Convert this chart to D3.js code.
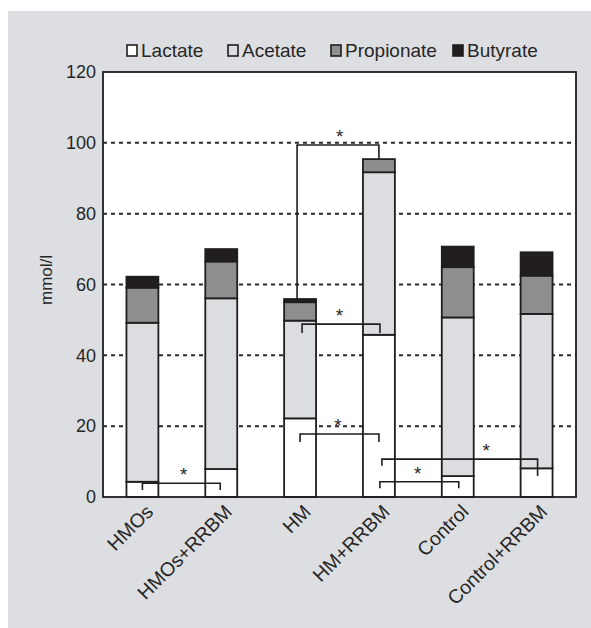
<!DOCTYPE html>
<html>
<head>
<meta charset="utf-8">
<script src="https://cdn.jsdelivr.net/npm/d3@7"></script>
<style>
  html, body { margin: 0; padding: 0; background: #ffffff; }
  svg { display: block; font-family: "Liberation Sans", Arial, sans-serif; }
</style>
</head>
<body>
<svg id="chart" width="591" height="628"></svg>
<script>
// Short-chain fatty acid concentrations (mmol/l) per fermentation condition
const categories = ["HMOs", "HMOs+RRBM", "HM", "HM+RRBM", "Control", "Control+RRBM"];
const lactate    = [4.3, 7.9, 22.2, 45.8, 5.9, 8.1];
const acetate    = [44.9, 48.2, 27.6, 45.9, 44.8, 43.6];
const propionate = [9.9, 10.4, 5.2, 3.7, 14.2, 10.8];
const butyrate   = [3.1, 3.5, 0.9, 0.0, 5.8, 6.6];
const seriesNames = ["Lactate", "Acetate", "Propionate", "Butyrate"];
const yTicks = [0, 20, 40, 60, 80, 100, 120];

// Significance brackets: groups compared, bracket level, tick ends (mmol/l)
const brackets = [
  { from: "HMOs",    to: "HMOs+RRBM",    level: 3.9,  leftEnd: 2.0,  rightEnd: 2.0,  star: 0.53 },
  { from: "HM",      to: "HM+RRBM",      level: 99.4, leftEnd: 55.9, rightEnd: 95.6, star: 0.52 },
  { from: "HM",      to: "HM+RRBM",      level: 48.8, leftEnd: 46.3, rightEnd: 46.3, star: 0.48 },
  { from: "HM",      to: "HM+RRBM",      level: 17.8, leftEnd: 15.5, rightEnd: 15.5, star: 0.48 },
  { from: "HM+RRBM", to: "Control",      level: 4.3,  leftEnd: 2.5,  rightEnd: 2.5,  star: 0.48 },
  { from: "HM+RRBM", to: "Control+RRBM", level: 10.7, leftEnd: 8.8,  rightEnd: 5.9,  star: 0.67 }
];
// horizontal nudges (px) for bracket ends relative to bar centres
const bracketNudge = [[0, -1], [-3, 0], [2, 1], [0, 0], [1, 1], [3, 1]];

const colors = {
  Lactate: "#ffffff",
  Acetate: "#dcdde0",
  Propionate: "#8e8e8f",
  Butyrate: "#221e1f"
};
const ink = "#1e1e1e";
const textInk = "#262626";

const svg = d3.select("#chart");

// panel background
svg.append("rect").attr("x", 8).attr("y", 11).attr("width", 583).attr("height", 617)
  .attr("fill", "#dcdee1");

const plot = { left: 103, right: 576, top: 72, bottom: 497 };

const x = d3.scaleBand().domain(categories).range([plot.left, plot.right])
  .paddingInner(0.595).paddingOuter(0.2975);
const y = d3.scaleLinear().domain([0, 120]).range([plot.bottom, plot.top]);

// plot area
svg.append("rect").attr("x", plot.left).attr("y", plot.top)
  .attr("width", plot.right - plot.left).attr("height", plot.bottom - plot.top)
  .attr("fill", "#ffffff");

// dotted gridlines
svg.append("g").selectAll("line").data(yTicks.filter(t => t > 0 && t < 120)).join("line")
  .attr("x1", plot.left).attr("x2", plot.right)
  .attr("y1", d => y(d)).attr("y2", d => y(d))
  .attr("stroke", "#2a2a2a").attr("stroke-width", 2).attr("stroke-dasharray", "4,4");

// stacked bars
const rows = categories.map((c, i) => ({
  cat: c, Lactate: lactate[i], Acetate: acetate[i], Propionate: propionate[i], Butyrate: butyrate[i]
}));
const stacked = d3.stack().keys(seriesNames)(rows);

svg.append("g").selectAll("g").data(stacked).join("g")
  .attr("fill", d => colors[d.key])
  .selectAll("rect").data(d => d.filter(s => s[1] - s[0] > 0)).join("rect")
  .attr("x", d => x(d.data.cat))
  .attr("width", x.bandwidth())
  .attr("y", d => y(d[1]))
  .attr("height", d => y(d[0]) - y(d[1]))
  .attr("stroke", ink).attr("stroke-width", 1.8);

// frame
svg.append("rect").attr("x", plot.left).attr("y", plot.top)
  .attr("width", plot.right - plot.left).attr("height", plot.bottom - plot.top)
  .attr("fill", "none").attr("stroke", ink).attr("stroke-width", 1.8);

// y axis labels
const yAxis = d3.axisLeft(y).tickValues(yTicks).tickSize(0).tickPadding(7);
const yg = svg.append("g").attr("transform", `translate(${plot.left},0)`).call(yAxis);
yg.select(".domain").remove();
yg.selectAll("text").attr("font-size", 18).attr("fill", textInk)
  .attr("font-family", "Liberation Sans, Arial, sans-serif");

svg.append("text")
  .attr("transform", `translate(52,280) rotate(-90)`)
  .attr("text-anchor", "middle").attr("font-size", 17).attr("fill", textInk)
  .text("mmol/l");

// x labels, rotated
svg.append("g").selectAll("text").data(categories).join("text")
  .attr("transform", d => `translate(${x(d) + x.bandwidth() / 2 + 12},${plot.bottom + 16}) rotate(-45)`)
  .attr("text-anchor", "end").attr("font-size", 19.5).attr("fill", textInk)
  .text(d => d);

// significance brackets
const bg = svg.append("g").attr("fill", "none").attr("stroke", ink).attr("stroke-width", 1.6);
brackets.forEach((b, i) => {
  const x1 = x(b.from) + x.bandwidth() / 2 + bracketNudge[i][0];
  const x2 = x(b.to) + x.bandwidth() / 2 + bracketNudge[i][1];
  const path = d3.path();
  path.moveTo(x1, y(b.leftEnd));
  path.lineTo(x1, y(b.level));
  path.lineTo(x2, y(b.level));
  path.lineTo(x2, y(b.rightEnd));
  bg.append("path").attr("d", path.toString());
  svg.append("text")
    .attr("x", x1 + (x2 - x1) * b.star)
    .attr("y", y(b.level) - 2)
    .attr("text-anchor", "middle").attr("font-size", 19).attr("fill", textInk)
    .text("*");
});

// legend
const legendX = [127, 228, 331, 453];
const lg = svg.append("g");
seriesNames.forEach((name, i) => {
  lg.append("rect").attr("x", legendX[i]).attr("y", 45).attr("width", 10).attr("height", 11)
    .attr("fill", colors[name]).attr("stroke", ink).attr("stroke-width", 1.6);
  lg.append("text").attr("x", legendX[i] + 14).attr("y", 57)
    .attr("font-size", 19).attr("fill", textInk).text(name);
});
</script>
</body>
</html>
